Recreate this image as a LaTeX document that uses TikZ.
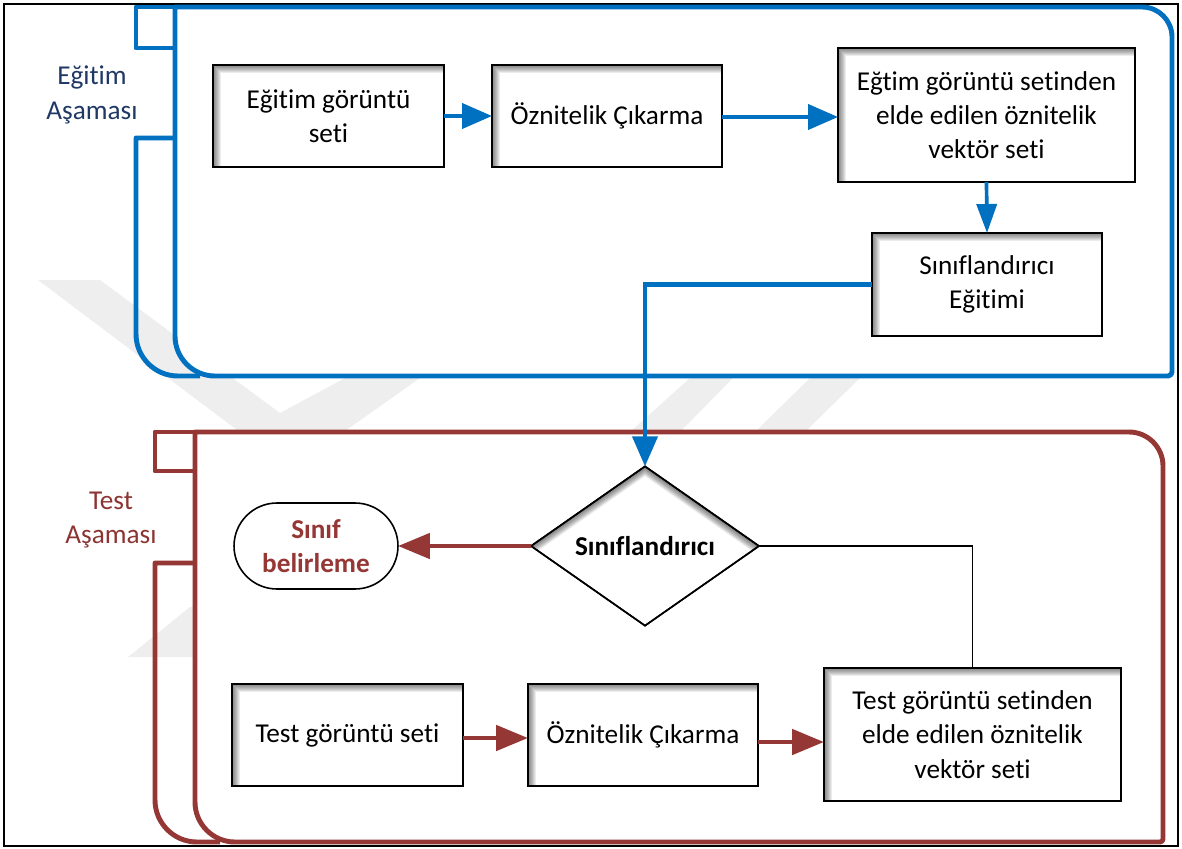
\documentclass[tikz,border=0pt]{standalone}
\usepackage{fontspec}
\setmainfont{Carlito}[RawFeature={-liga;-clig;-calt;-dlig}]
\usetikzlibrary{arrows.meta,shapes.geometric}

\definecolor{laneblue}{HTML}{0070C0}
\definecolor{lanered}{HTML}{953735}
\definecolor{navytext}{HTML}{1F3864}
\definecolor{redtext}{HTML}{8B3431}
\definecolor{wmgray}{HTML}{EEEEEE}

\tikzset{
  bluelane/.style={draw=laneblue, line width=2.8pt, line join=round},
  redlane/.style={draw=lanered, line width=2.8pt, line join=round},
  procbox/.style={rectangle, draw=black, line width=1.1pt, fill=white,
    align=center, inner sep=2pt, outer sep=0pt},
  decision/.style={diamond, draw=black, line width=0.9pt, fill=white,
    inner sep=0pt, outer sep=0pt, align=center},
  terminal/.style={rectangle, rounded corners=0.86cm, draw=black, line width=0.9pt,
    fill=white, align=center, outer sep=0pt},
  lanelabel/.style={align=center},
  bluearrow/.style={draw=laneblue, line width=2.3pt,
    -{Triangle[length=0.6cm,width=0.5cm]}},
  bluearrowdown/.style={draw=laneblue, line width=2.1pt,
    -{Triangle[length=0.58cm,width=0.4cm]}},
  redarrow/.style={draw=lanered, line width=2.8pt,
    -{Triangle[length=0.64cm,width=0.5cm]}},
  thinline/.style={draw=black, line width=0.8pt},
}

% soft shadow along the top and left inner edges of a box
\newcommand{\boxshade}[1]{%
  \begin{scope}
    \clip (#1.south west) rectangle (#1.north east);
    \foreach \w in {1.1,2.3,3.4,4.5,5.7,6.8,7.9,9.1}
      \draw[black, opacity=0.075, line width=\w pt]
        (#1.south west) -- (#1.north west) -- (#1.north east);
  \end{scope}
  \draw[black, line width=1.1pt] (#1.south west) rectangle (#1.north east);}

% same soft shadow along the two upper edges of a diamond
\newcommand{\diamondshade}[1]{%
  \begin{scope}
    \clip (#1.west) -- (#1.north) -- (#1.east) -- (#1.south) -- cycle;
    \foreach \w in {1.1,2.3,3.4,4.5,5.7,6.8,7.9,9.1}
      \draw[black, opacity=0.08, line width=\w pt]
        (#1.west) -- (#1.north) -- (#1.east);
  \end{scope}
  \draw[black, line width=0.9pt, line join=miter]
    (#1.west) -- (#1.north) -- (#1.east) -- (#1.south) -- cycle;}

\begin{document}
\begin{tikzpicture}[x=0.02cm, y=-0.02cm,
  font=\fontsize{15.5pt}{19.5pt}\selectfont]
\useasboundingbox (0,0) rectangle (1182,848);

% faint background emblem
\fill[wmgray] (38,280) -- (100,280) -- (280,413) -- (345,378) -- (420,378) -- (290,470) -- cycle;
\fill[wmgray] (630,432) -- (680,432) -- (733,378) -- (690,378) -- cycle;
\fill[wmgray] (755,432) -- (805,432) -- (860,378) -- (810,378) -- cycle;
\fill[wmgray] (128,657) -- (190,607) -- (196,607) -- (196,657) -- cycle;

% outer frame
\draw[black, line width=1.6pt] (4,4) rectangle (1178,846);

% training lane
\draw[bluelane, fill=white] (175,7) -- (1142,7) arc[start angle=-90, end angle=0, radius=30]
  -- (1172,372) arc[start angle=0, end angle=90, radius=4]
  -- (215,376) arc[start angle=90, end angle=180, radius=40] -- cycle;
\draw[bluelane] (175,7) -- (136,7) -- (136,48) -- (175,48);
\draw[bluelane] (175,138) -- (136,138) -- (136,334)
  arc[start angle=180, end angle=90, radius=42] -- (200,376);
\node[lanelabel, text=navytext] (lblA) at (92,95) {Eğitim\\Aşaması};

% test lane
\draw[redlane, fill=white] (195,432) -- (1129,432) arc[start angle=-90, end angle=0, radius=34]
  -- (1163,839) arc[start angle=0, end angle=90, radius=3]
  -- (235,842) arc[start angle=90, end angle=180, radius=40] -- cycle;
\draw[redlane] (195,432) -- (155,432) -- (155,471) -- (195,471);
\draw[redlane] (195,563) -- (155,563) -- (155,800)
  arc[start angle=180, end angle=90, radius=42] -- (220,842);
\node[lanelabel, text=redtext] (lblB) at (111,520) {Test\\Aşaması};

% training steps
\node[procbox, minimum width=4.62cm, minimum height=2.04cm] (e1) at (328.5,116) {Eğitim görüntü\\seti};
\node[procbox, minimum width=4.6cm, minimum height=2.04cm] (e2) at (607,116) {Öznitelik Çıkarma};
\node[procbox, minimum width=5.94cm, minimum height=2.68cm] (e3) at (986.5,115)
  {Eğtim görüntü setinden\\elde edilen öznitelik\\vektör seti};
\node[procbox, minimum width=4.6cm, minimum height=2.06cm] (e4) at (987,284.5) {Sınıflandırıcı\\Eğitimi};
\boxshade{e1}\boxshade{e2}\boxshade{e3}\boxshade{e4}

% test steps
\node[procbox, minimum width=4.62cm, minimum height=2.04cm] (t1) at (347.5,735) {Test görüntü seti};
\node[procbox, minimum width=4.6cm, minimum height=2.04cm] (t2) at (643,735) {Öznitelik Çıkarma};
\node[procbox, minimum width=5.94cm, minimum height=2.66cm] (t3) at (972.5,734.5)
  {Test görüntü setinden\\elde edilen öznitelik\\vektör seti};
\boxshade{t1}\boxshade{t2}\boxshade{t3}

\node[decision, minimum width=4.56cm, minimum height=2.88cm] (cls) at (645,546) {\bfseries Sınıflandırıcı};
\diamondshade{cls}
\node[terminal, minimum width=3.28cm, minimum height=1.72cm] (res) at (316,546)
  {\bfseries\color{lanered}Sınıf\\\bfseries\color{lanered}belirleme};

% connectors
\draw[bluearrow] (e1.east) -- (e2.west);
\draw[bluearrow] ([yshift=-0.02cm]e2.east) -- ([yshift=-0.02cm]e2.east -| e3.west);
\draw[bluearrowdown] (e3.south) -- (e4.north);
\draw[bluearrow] (e4.west) -- (e4.west -| cls.north) -- (cls.north);
\draw[redarrow] (cls.west) -- (cls.west -| res.east);
\draw[thinline] (cls.east) -- (cls.east -| t3.north) -- (t3.north);
\draw[redarrow] ([yshift=-0.06cm]t1.east) -- ([yshift=-0.06cm]t2.west);
\draw[redarrow] ([yshift=-0.14cm]t2.east) -- ([yshift=-0.14cm]t2.east -| t3.west);
\end{tikzpicture}
\end{document}
